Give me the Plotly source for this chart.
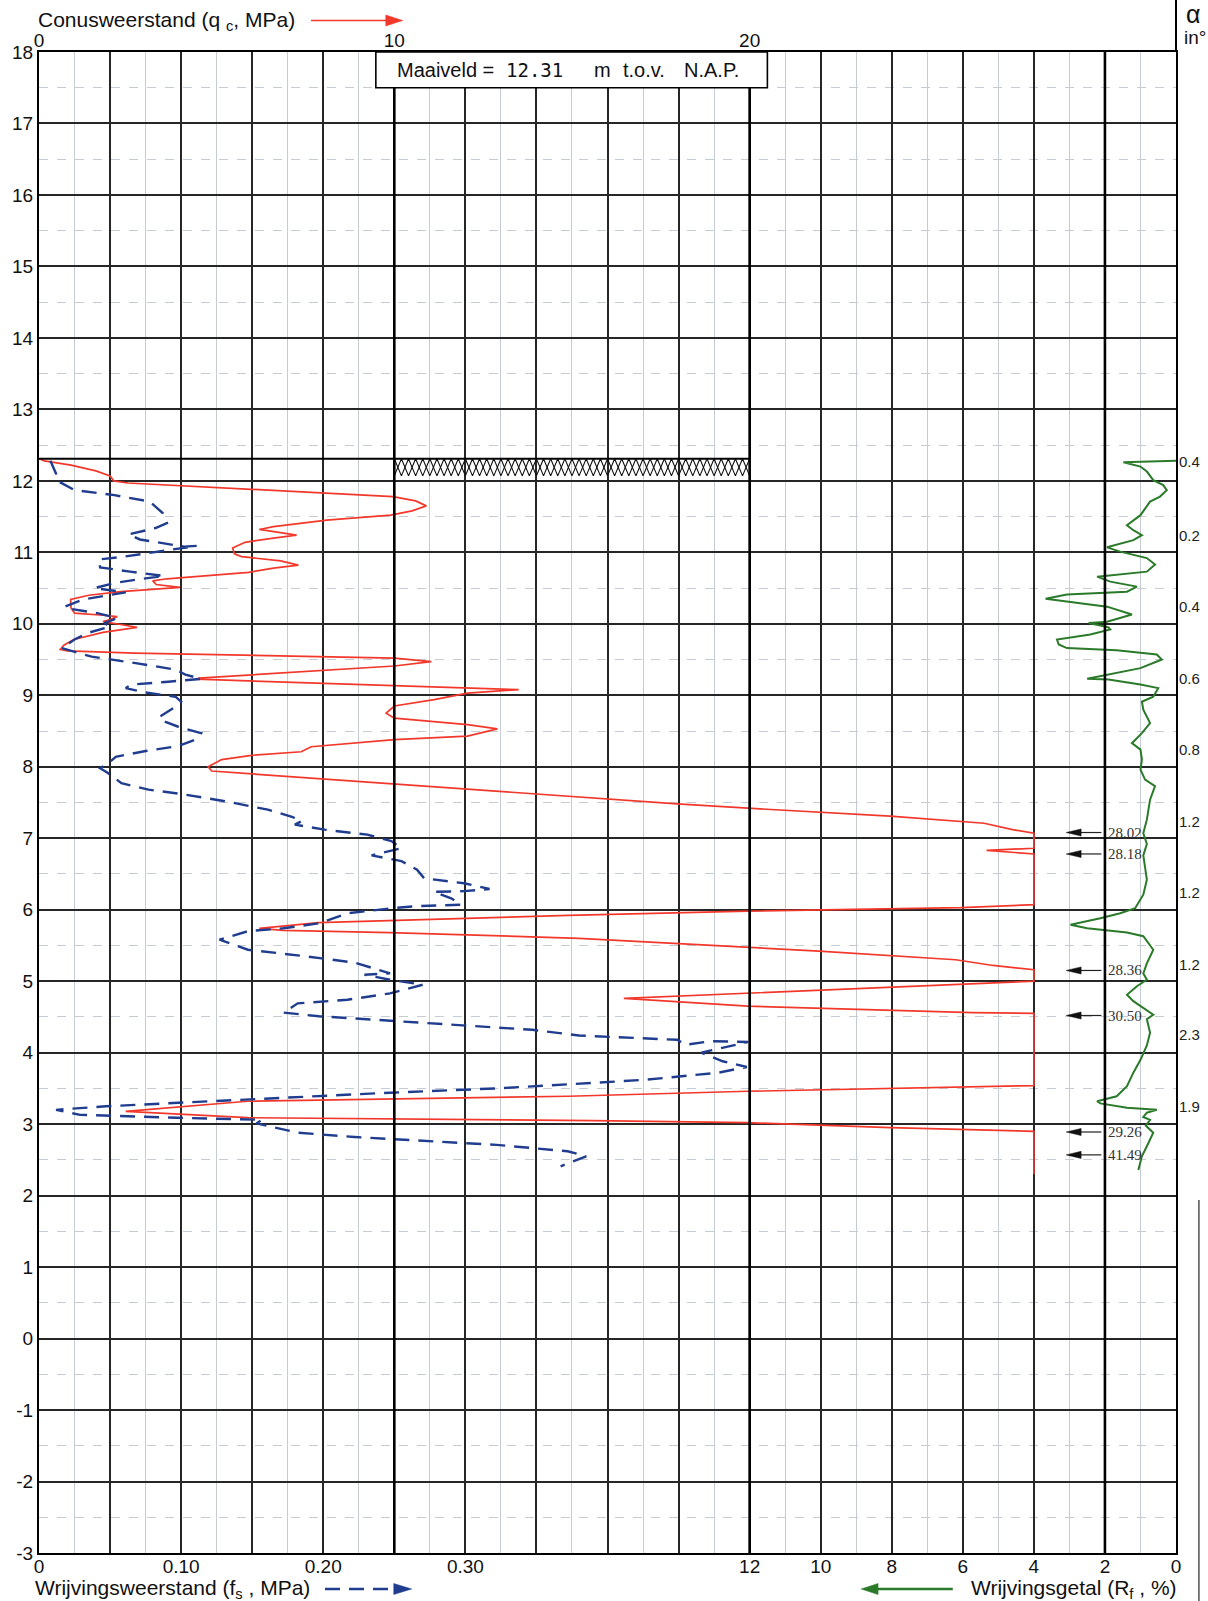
import plotly.graph_objects as go

# ---------------- data ----------------
ground_level = 12.31  # Maaiveld, m t.o.v. N.A.P.

qc_depth = [12.31, 12.28, 12.22, 12.14, 12.07, 12.0, 11.97, 11.78, 11.72, 11.65, 11.58, 11.52,
            11.45, 11.36, 11.32, 11.28, 11.24, 11.2, 11.14, 11.06, 10.98, 10.94, 10.88, 10.82,
            10.78, 10.72, 10.63, 10.6, 10.55, 10.51, 10.48, 10.45, 10.4, 10.34, 10.22, 10.15,
            10.12, 10.1, 10.06, 10.03, 9.99, 9.95, 9.88, 9.78, 9.7, 9.64, 9.62, 9.59, 9.52, 9.47,
            9.41, 9.29, 9.24, 9.225, 9.13, 9.08, 9.03, 8.94, 8.85, 8.75, 8.68, 8.59, 8.53, 8.43,
            8.38, 8.28, 8.21, 8.16, 8.1, 8.0, 7.94, 7.9, 7.76, 7.62, 7.48, 7.42, 7.31, 7.21, 7.12,
            7.07, 6.86, 6.83, 6.78, 6.07, 6.03, 5.98, 5.92, 5.82, 5.77, 5.74, 5.71, 5.68, 5.6,
            5.53, 5.42, 5.3, 5.22, 5.16, 5.0, 4.76, 4.65, 4.56, 4.55, 3.54, 3.46, 3.39, 3.32,
            3.18, 3.09, 3.05, 3.02, 2.95, 2.9, 2.3]
qc_value = [0.0, 0.15, 0.9, 1.6, 2.0, 2.1, 2.5, 9.96, 10.6, 10.9, 10.5, 9.9,
            8.1, 6.6, 6.2, 6.8, 7.25, 6.6, 5.8, 5.45, 5.5, 5.7, 6.8, 7.3,
            6.6, 5.9, 3.6, 3.2, 3.3, 3.97, 3.0, 2.3, 1.4, 0.89, 0.9, 1.0,
            1.8, 2.2, 2.0, 1.8, 2.3, 2.76, 1.8, 0.98, 0.7, 0.6, 0.8, 2.7, 10.0, 11.04,
            10.0, 5.96, 4.5, 4.44, 10.0, 13.5, 12.06, 11.12, 10.0, 9.77, 10.0, 12.06, 12.9, 12.06,
            10.0, 7.66, 7.38, 5.98, 5.14, 4.76, 4.86, 5.98, 10.0, 13.93, 17.96, 19.95, 23.95, 26.6, 27.4,
            28.0, 28.0, 26.67, 28.0, 28.0, 25.95, 19.95, 14.9, 7.87, 6.67, 6.2, 6.87, 9.87, 15.2,
            17.96, 21.95, 25.8, 26.85, 28.0, 28.0, 16.46, 19.95, 26.27, 28.0, 28.0, 19.95, 14.9, 5.87,
            2.44, 5.87, 15.57, 19.95, 23.96, 28.0, 28.0]

fs_depth = [12.28, 12.1, 12.0, 11.87, 11.8, 11.71, 11.55, 11.41, 11.34, 11.25, 11.18, 11.08,
            11.09, 11.05, 11.01, 10.94, 10.9, 10.79, 10.73, 10.67, 10.62, 10.57, 10.5, 10.44,
            10.39, 10.34, 10.24, 10.21, 10.15, 10.08, 10.01, 9.96, 9.87, 9.78, 9.66, 9.54, 9.45,
            9.36, 9.29, 9.23, 9.19, 9.15, 9.1, 9.04, 8.98, 8.91, 8.84, 8.7, 8.66, 8.56, 8.47,
            8.38, 8.29, 8.22, 8.14, 8.07, 7.98, 7.92, 7.77, 7.68, 7.62, 7.51, 7.4, 7.3, 7.24,
            7.19, 7.12, 7.05, 6.96, 6.86, 6.76, 6.68, 6.56, 6.44, 6.37, 6.29, 6.26, 6.25, 6.16,
            6.07, 6.05, 6.02, 5.95, 5.88, 5.81, 5.74, 5.7, 5.58, 5.44, 5.35, 5.26, 5.11, 5.09,
            5.02, 4.95, 4.83, 4.74, 4.69, 4.56, 4.51, 4.45, 4.39, 4.32, 4.24, 4.18, 4.11, 4.16,
            4.15, 4.0, 3.88, 3.8, 3.72, 3.62, 3.56, 3.5, 3.44, 3.37, 3.3, 3.25, 3.2, 3.13, 3.09,
            3.06, 3.01, 2.88, 2.82, 2.77, 2.71, 2.62, 2.55, 2.41]
fs_value = [0.008, 0.012, 0.013, 0.025, 0.053, 0.078, 0.087, 0.09, 0.082, 0.063, 0.071, 0.102,
            0.111, 0.098, 0.085, 0.06, 0.042, 0.043, 0.064, 0.088, 0.069, 0.053, 0.039, 0.061,
            0.046, 0.031, 0.018, 0.022, 0.041, 0.055, 0.046, 0.05, 0.034, 0.025, 0.016, 0.037, 0.068,
            0.096, 0.103, 0.114, 0.091, 0.065, 0.061, 0.075, 0.096, 0.1, 0.096, 0.085, 0.085, 0.098, 0.114,
            0.11, 0.098, 0.075, 0.054, 0.05, 0.043, 0.048, 0.058, 0.077, 0.1, 0.133, 0.161, 0.178, 0.185,
            0.18, 0.201, 0.231, 0.248, 0.255, 0.234, 0.255, 0.266, 0.271, 0.299, 0.317, 0.299, 0.278, 0.29,
            0.297, 0.266, 0.248, 0.217, 0.207, 0.197, 0.172, 0.147, 0.127, 0.147, 0.187, 0.222, 0.247, 0.229,
            0.247, 0.27, 0.247, 0.217, 0.182, 0.172, 0.197, 0.247, 0.292, 0.347, 0.38, 0.449, 0.455, 0.472,
            0.499, 0.466, 0.481, 0.498, 0.478, 0.426, 0.375, 0.322, 0.247, 0.172, 0.097, 0.047, 0.012, 0.029, 0.097,
            0.157, 0.153, 0.182, 0.222, 0.272, 0.322, 0.372, 0.385, 0.367]

rf_depth = [12.28, 12.26, 12.2, 12.13, 12.01, 11.94, 11.87, 11.78, 11.71, 11.52, 11.38, 11.31,
            11.24, 11.17, 11.07, 11.01, 10.92, 10.83, 10.73, 10.66, 10.59, 10.52, 10.45, 10.41,
            10.35, 10.31, 10.24, 10.13, 10.03, 10.01, 9.95, 9.92, 9.85, 9.78, 9.71, 9.66, 9.63,
            9.57, 9.5, 9.38, 9.29, 9.23, 9.22, 9.15, 9.1, 8.98, 8.91, 8.8, 8.61, 8.47, 8.33, 8.24,
            8.1, 7.96, 7.82, 7.73, 7.54, 7.26, 7.07, 6.92, 6.76, 6.42, 6.21, 6.02, 5.95, 5.88, 5.79,
            5.74, 5.68, 5.63, 5.44, 5.25, 5.11, 5.02, 4.93, 4.81, 4.72, 4.59, 4.53, 4.47, 4.28, 4.1,
            3.9, 3.72, 3.53, 3.39, 3.32, 3.29, 3.23, 3.2, 3.16, 3.1, 3.06, 2.98, 2.88, 2.69, 2.55, 2.36]
rf_value = [0.0, 1.48, 1.0, 0.82, 0.64, 0.36, 0.26, 0.45, 0.73, 1.0, 1.38, 1.2,
            0.96, 1.2, 1.94, 1.57, 0.82, 0.59, 0.82, 2.22, 1.85, 1.1, 1.38, 3.07,
            3.67, 3.07, 1.94, 1.24, 1.94, 2.46, 1.9, 1.85, 2.41, 3.35, 3.3, 3.07, 1.67,
            0.54, 0.4, 1.0, 1.85, 2.5, 1.9, 1.0, 0.5, 0.64, 0.96, 0.92, 0.73, 0.96, 1.24, 1.0,
            0.96, 1.0, 0.87, 0.59, 0.73, 0.82, 0.92, 0.82, 0.92, 0.82, 0.92, 1.15, 1.57, 2.13, 2.97,
            2.5, 1.38, 0.92, 0.64, 0.82, 0.92, 0.82, 1.1, 1.38, 1.2, 0.82, 0.64, 0.82, 0.73, 0.82,
            1.0, 1.2, 1.38, 1.67, 2.22, 2.13, 1.38, 0.54, 0.82, 0.92, 0.73, 0.85, 0.64, 0.82, 0.96, 1.06]

# peak values of qc beyond the 28 MPa clip
peak_depth = [7.08, 6.78, 5.15, 4.52, 2.89, 2.57]
peak_qc = [28.02, 28.18, 28.36, 30.50, 29.26, 41.49]

# inclination alpha (degrees)
alpha_depth = [12.27, 11.24, 10.24, 9.24, 8.24, 7.24, 6.24, 5.24, 4.25, 3.24]
alpha_value = ["0.4", "0.2", "0.4", "0.6", "0.8", "1.2", "1.2", "1.2", "2.3", "1.9"]

depth_ticks = list(range(-3, 19))
qc_ticks = [0, 10, 20]
fs_ticks = [0, 0.10, 0.20, 0.30]
fs_tick_labels = ["0", "0.10", "0.20", "0.30"]
rf_ticks = [12, 10, 8, 6, 4, 2, 0]

# ---------------- layout geometry ----------------
W, H = 1208, 1601
L, R, T, B = 35, 1176, 52, 1553

def px(xp):
    return (xp - L) / (R - L)

def py(yp):
    return (B - yp) / (B - T)

FONT = "Liberation Sans, Arial, sans-serif"
RED = "#f2382b"
BLUE = "#1f3c8f"
GREEN = "#2a7a2a"
MAJ = "#262626"
MIN = "#c6ccd3"

fig = go.Figure()

# qc (red)
fig.add_trace(go.Scatter(x=qc_value, y=qc_depth, mode="lines", xaxis="x", yaxis="y",
                         line=dict(color=RED, width=1.7), hoverinfo="skip"))
# fs (blue dashed)
fig.add_trace(go.Scatter(x=fs_value, y=fs_depth, mode="lines", xaxis="x2", yaxis="y",
                         line=dict(color=BLUE, width=2.4, dash="15px,9px"), hoverinfo="skip"))
# Rf (green)
fig.add_trace(go.Scatter(x=rf_value, y=rf_depth, mode="lines", xaxis="x3", yaxis="y",
                         line=dict(color=GREEN, width=2), hoverinfo="skip"))

# hatch below ground level between qc 10 and 20
n_per = 25
hatch_depth = 0.24
hx = [10 + i * 10 / (2 * n_per) for i in range(2 * n_per + 1)]
ha = [ground_level if i % 2 == 0 else ground_level - hatch_depth for i in range(len(hx))]
hb = [ground_level - hatch_depth if i % 2 == 0 else ground_level for i in range(len(hx))]
for yy in (ha, hb):
    fig.add_trace(go.Scatter(x=hx, y=yy, mode="lines", xaxis="x", yaxis="y",
                             line=dict(color="#111", width=1.1), hoverinfo="skip"))

shapes = []
# thick vertical lines
for q in (10, 20):
    shapes.append(dict(type="line", xref="x", yref="y", x0=q, x1=q, y0=-3, y1=17.5,
                       line=dict(color="#000", width=2.6)))
shapes.append(dict(type="line", xref="x3", yref="y", x0=2, x1=2, y0=-3, y1=18,
                   line=dict(color="#000", width=2.6)))
# ground level line
shapes.append(dict(type="line", xref="x", yref="y", x0=0, x1=20, y0=ground_level, y1=ground_level,
                   line=dict(color="#000", width=2)))
# Maaiveld box
shapes.append(dict(type="rect", xref="x", yref="y", x0=9.48, x1=20.5, y0=17.5, y1=18,
                   fillcolor="white", line=dict(color="#000", width=1.6)))
# right border extension to top
shapes.append(dict(type="line", xref="paper", yref="paper", x0=1, x1=1, y0=1, y1=py(0),
                   line=dict(color="#000", width=2)))
# page edge line at lower right
shapes.append(dict(type="line", xref="paper", yref="paper", x0=px(1199), x1=px(1199), y0=py(1200), y1=py(1601),
                   line=dict(color="#444", width=1.4)))

# peak arrows (Rf coordinates)
for d in peak_depth:
    shapes.append(dict(type="line", xref="x3", yref="y", x0=2.1, x1=2.75, y0=d, y1=d,
                       line=dict(color="#222", width=1.2)))
    shapes.append(dict(type="path", xref="x3", yref="y",
                       path=f"M 3.09,{d} L 2.67,{d + 0.05} L 2.67,{d - 0.05} Z",
                       fillcolor="#111", line=dict(color="#111", width=0.5)))

# title arrows
def head(x_tail, x_tip, yp, half=5.5, color="#000"):
    return dict(type="path", xref="paper", yref="paper",
                path=f"M {px(x_tip)},{py(yp)} L {px(x_tail)},{py(yp - half)} L {px(x_tail)},{py(yp + half)} Z",
                fillcolor=color, line=dict(color=color, width=0.5))

shapes.append(dict(type="line", xref="paper", yref="paper", x0=px(308), x1=px(386), y0=py(20.5), y1=py(20.5),
                   line=dict(color=RED, width=1.6)))
shapes.append(head(383, 400, 20.5, color=RED))
shapes.append(dict(type="line", xref="paper", yref="paper", x0=px(322), x1=px(392), y0=py(1589), y1=py(1589),
                   line=dict(color=BLUE, width=2.6, dash="15px,9px")))
shapes.append(head(391, 409, 1589, color=BLUE))
shapes.append(dict(type="line", xref="paper", yref="paper", x0=px(952), x1=px(874), y0=py(1589), y1=py(1589),
                   line=dict(color=GREEN, width=2.4)))
shapes.append(head(877, 860, 1589, color=GREEN))

ann = []
def text(s, xp, yp, size=20, xanchor="left", family=FONT, color="#111", xref="paper", yref="paper"):
    ann.append(dict(text=s, x=xp, y=yp, xref=xref, yref=yref, xanchor=xanchor, yanchor="middle",
                    showarrow=False, font=dict(family=family, size=size, color=color)))

text("Conusweerstand (q <sub>c</sub>, MPa)", px(32), py(21), size=21)
text("Wrijvingsweerstand (f<sub>s</sub> , MPa)", px(29), py(1589), size=21)
text("Wrijvingsgetal (R<sub>f</sub> , %)", px(1179), py(1589), size=21, xanchor="right")
text("Maaiveld =", px(392), py(70), size=20)
text("12.31", px(502), py(70), size=19, family="DejaVu Sans Mono, monospace")
text("m", px(590), py(70), size=20)
text("t.o.v.", px(619), py(70), size=20)
text("N.A.P.", px(680), py(70), size=20)
text("α", px(1193), py(14), size=25, xanchor="center")
text("in°", px(1195), py(37), size=19, xanchor="center")
for d, v in zip(alpha_depth, alpha_value):
    text(v, px(1190), d, size=15, xanchor="center", yref="y", color="#222")
for d, v in zip(peak_depth, peak_qc):
    text(f"{v:.2f}", 1.96, d, size=15, xanchor="left", xref="x3", yref="y",
         family="Liberation Serif, Times New Roman, serif", color="#333")

fig.update_layout(
    width=W, height=H, autosize=False,
    margin=dict(l=L, r=W - R, t=T, b=H - B, pad=0),
    paper_bgcolor="white", plot_bgcolor="white",
    showlegend=False,
    font=dict(family=FONT, color="#111"),
    # grid axis (2 MPa major, 1 MPa minor)
    xaxis=dict(range=[0, 32], side="top", tickmode="linear", tick0=0, dtick=2, showticklabels=False,
               ticks="", showgrid=True, gridcolor=MAJ, gridwidth=1.6, zeroline=False,
               showline=True, mirror=True, linecolor="#000", linewidth=2,
               minor=dict(tickmode="linear", tick0=0, dtick=1, showgrid=True, gridcolor=MIN, gridwidth=1.3, ticks=""),
               fixedrange=True),
    # qc axis labels (top)
    xaxis4=dict(range=[0, 32], overlaying="x", side="top", anchor="y", tickmode="array",
                tickvals=qc_ticks, ticktext=[str(v) for v in qc_ticks], ticks="",
                tickfont=dict(size=19, color="#111"), showgrid=False, zeroline=False, showline=False),
    xaxis2=dict(range=[0, 0.8], overlaying="x", side="bottom", anchor="y", tickmode="array",
                tickvals=fs_ticks, ticktext=fs_tick_labels, ticks="", tickfont=dict(size=19, color="#111"),
                showgrid=False, zeroline=False, showline=False),
    xaxis3=dict(range=[32, 0], overlaying="x", side="bottom", anchor="y", tickmode="array",
                tickvals=rf_ticks, ticktext=[str(v) for v in rf_ticks], ticks="", tickfont=dict(size=19, color="#111"),
                showgrid=False, zeroline=False, showline=False),
    yaxis=dict(range=[-3, 18], tickmode="array", tickvals=depth_ticks, ticktext=[str(v) for v in depth_ticks],
               ticks="", tickfont=dict(size=19, color="#111"),
               showgrid=True, gridcolor=MAJ, gridwidth=1.6, zeroline=False,
               showline=True, mirror=True, linecolor="#000", linewidth=2,
               minor=dict(tickmode="linear", tick0=0, dtick=0.5, showgrid=True, gridcolor=MIN, gridwidth=1.2,
                          griddash="dash", ticks=""),
               fixedrange=True),
    shapes=shapes,
    annotations=ann,
)
# invisible trace so the qc label axis is rendered
fig.add_trace(go.Scatter(x=[0], y=[18], xaxis="x4", yaxis="y", mode="markers",
                         marker=dict(opacity=0), hoverinfo="skip"))

fig.write_html("out.html", config={"displayModeBar": False},
               post_script="document.body.style.margin='0';")
